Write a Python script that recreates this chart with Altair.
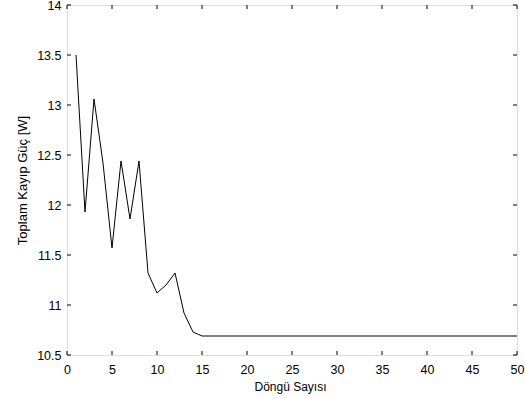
import altair as alt
import pandas as pd

iterations = list(range(1, 51))
loss = [13.50, 11.93, 13.06, 12.42, 11.57, 12.44, 11.86, 12.44, 11.32, 11.12,
        11.20, 11.32, 10.92, 10.73, 10.69] + [10.69] * 35
x_ticks = [0, 5, 10, 15, 20, 25, 30, 35, 40, 45, 50]
y_ticks = [10.5, 11, 11.5, 12, 12.5, 13, 13.5, 14]

W, H = 450, 350
df = pd.DataFrame({"x": iterations, "y": loss})
xt = pd.DataFrame({"t": x_ticks})
yt = pd.DataFrame({"t": y_ticks})

xs = alt.Scale(domain=[0, 50], nice=False, zero=False)
ys = alt.Scale(domain=[10.5, 14], nice=False, zero=False)

font = "Liberation Sans"

line = alt.Chart(df).mark_line(color="black", strokeWidth=1).encode(
    x=alt.X("x:Q", scale=xs, title="Döngü Sayısı",
            axis=alt.Axis(values=x_ticks, tickSize=0, domain=False, grid=False,
                          labelPadding=18, labelBaseline="alphabetic",
                          labelFontSize=12.5, titleFontSize=12,
                          titleFontWeight="normal",
                          labelFont=font, titleFont=font, labelColor="black",
                          titleColor="black", labelFlush=False,
                          titleX=223, titleY=35, titleBaseline="alphabetic",
                          titleAlign="center")),
    y=alt.Y("y:Q", scale=ys, title="Toplam Kayıp Güç [W]",
            axis=alt.Axis(values=y_ticks, format="~g", tickSize=0, domain=False,
                          grid=False, labelPadding=6,
                          labelFontSize=12.5, titleFontSize=13,
                          titleFontWeight="normal", labelFont=font,
                          titleFont=font, labelColor="black", titleColor="black",
                          labelFlush=False, titleX=-45, titleY=175,
                          titleAngle=270, titleBaseline="middle",
                          titleAlign="center")),
)

xb = alt.Chart(xt).mark_rule(color="black", strokeWidth=1).encode(
    x=alt.X("t:Q", scale=xs), y=alt.value(H), y2=alt.value(H - 4))
xtop = alt.Chart(xt).mark_rule(color="black", strokeWidth=1).encode(
    x=alt.X("t:Q", scale=xs), y=alt.value(0), y2=alt.value(4))
yl = alt.Chart(yt).mark_rule(color="black", strokeWidth=1).encode(
    y=alt.Y("t:Q", scale=ys), x=alt.value(0), x2=alt.value(4))
yr = alt.Chart(yt).mark_rule(color="black", strokeWidth=1).encode(
    y=alt.Y("t:Q", scale=ys), x=alt.value(W - 4), x2=alt.value(W))

chart = alt.layer(line, xb, xtop, yl, yr).properties(
    width=W, height=H,
    autosize=alt.AutoSizeParams(type="none"),
    padding={"left": 67, "top": 5, "right": 8, "bottom": 43},
).configure_view(stroke="black", strokeWidth=1.5).configure(background="white")

chart.save("out.html", embed_options={"renderer": "svg", "actions": False})
